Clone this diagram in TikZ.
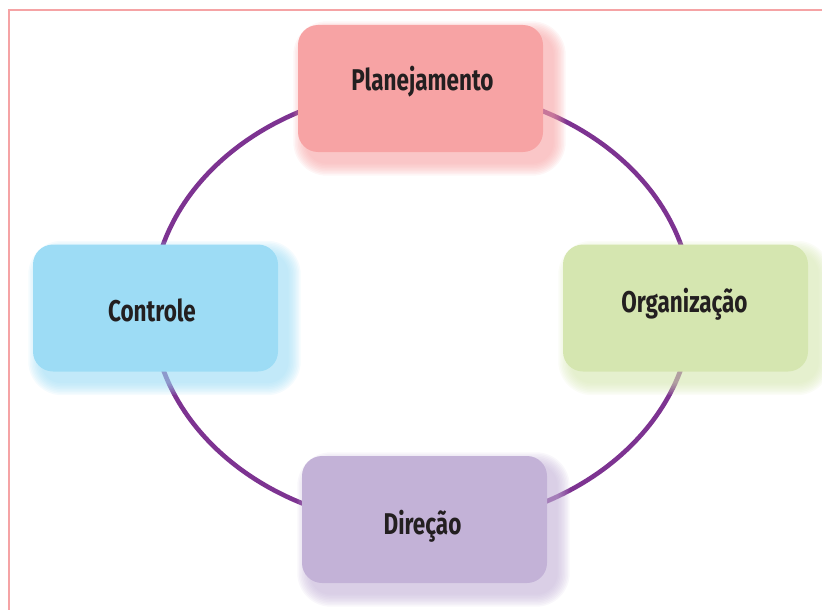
\documentclass[tikz,border=0pt]{standalone}
\usepackage{fontspec}
\newfontfamily\lblfont[FakeStretch=0.75]{Fira Sans}
\definecolor{ringc}{HTML}{7D3391}
\definecolor{framec}{HTML}{F5A3A5}
\definecolor{planc}{HTML}{F7A3A4}
\definecolor{orgc}{HTML}{D5E6B0}
\definecolor{contc}{HTML}{9DDCF5}
\definecolor{dirc}{HTML}{C3B2D7}
\definecolor{txtc}{HTML}{231F20}
\pgfdeclarelayer{background}
\pgfdeclarelayer{glow}
\pgfsetlayers{background,glow,main}
\tikzset{
  box/.style={rectangle, rounded corners=20pt, minimum width=245pt, minimum height=127pt, inner sep=0pt, draw=none},
  lbl/.style={anchor=base, inner sep=0pt, text=txtc, font=\lblfont\bfseries\fontsize{30}{36}\selectfont},
  ring/.style={draw=ringc, line width=4.6pt},
  framestyle/.style={draw=framec, line width=1.5pt},
}
\newcommand{\glowbox}[2]{%
  \foreach \e [evaluate=\e as \r using 20+\e] in {1.5,3,...,13.5}
    \fill[#2, opacity=0.1, rounded corners=\r pt]
      ([shift={(9-\e,10+\e)}]#1.south west) rectangle ([shift={(9+\e,10-\e)}]#1.north east);
}
\begin{document}
\begin{tikzpicture}[x=1pt,y=-1pt]
\useasboundingbox (0,0) rectangle (822,610);
\draw[framestyle] (9,610) -- (9,10) -- (822,10);
\coordinate (ctr) at (422,307);
\node[box, fill=planc] (plan) at (420.5,88.5) {};
\node[box, fill=orgc]  (org)  at (685.5,308) {};
\node[box, fill=contc] (cont) at (155.5,308) {};
\node[box, fill=dirc]  (dir)  at (424.5,519.5) {};
\node[lbl] (tplan) at (422.5,91) {Planejamento};
\node[lbl] (torg)  at (684.5,312) {Organização};
\node[lbl] (tcont) at (152,321) {Controle};
\node[lbl] (tdir)  at (422.5,534) {Direção};
\begin{pgfonlayer}{background}
\draw[ring] (ctr) ellipse [x radius=270pt, y radius=219pt];
\end{pgfonlayer}
\begin{pgfonlayer}{glow}
\glowbox{plan}{planc}
\glowbox{org}{orgc}
\glowbox{cont}{contc}
\glowbox{dir}{dirc}
\end{pgfonlayer}
\end{tikzpicture}
\end{document}
